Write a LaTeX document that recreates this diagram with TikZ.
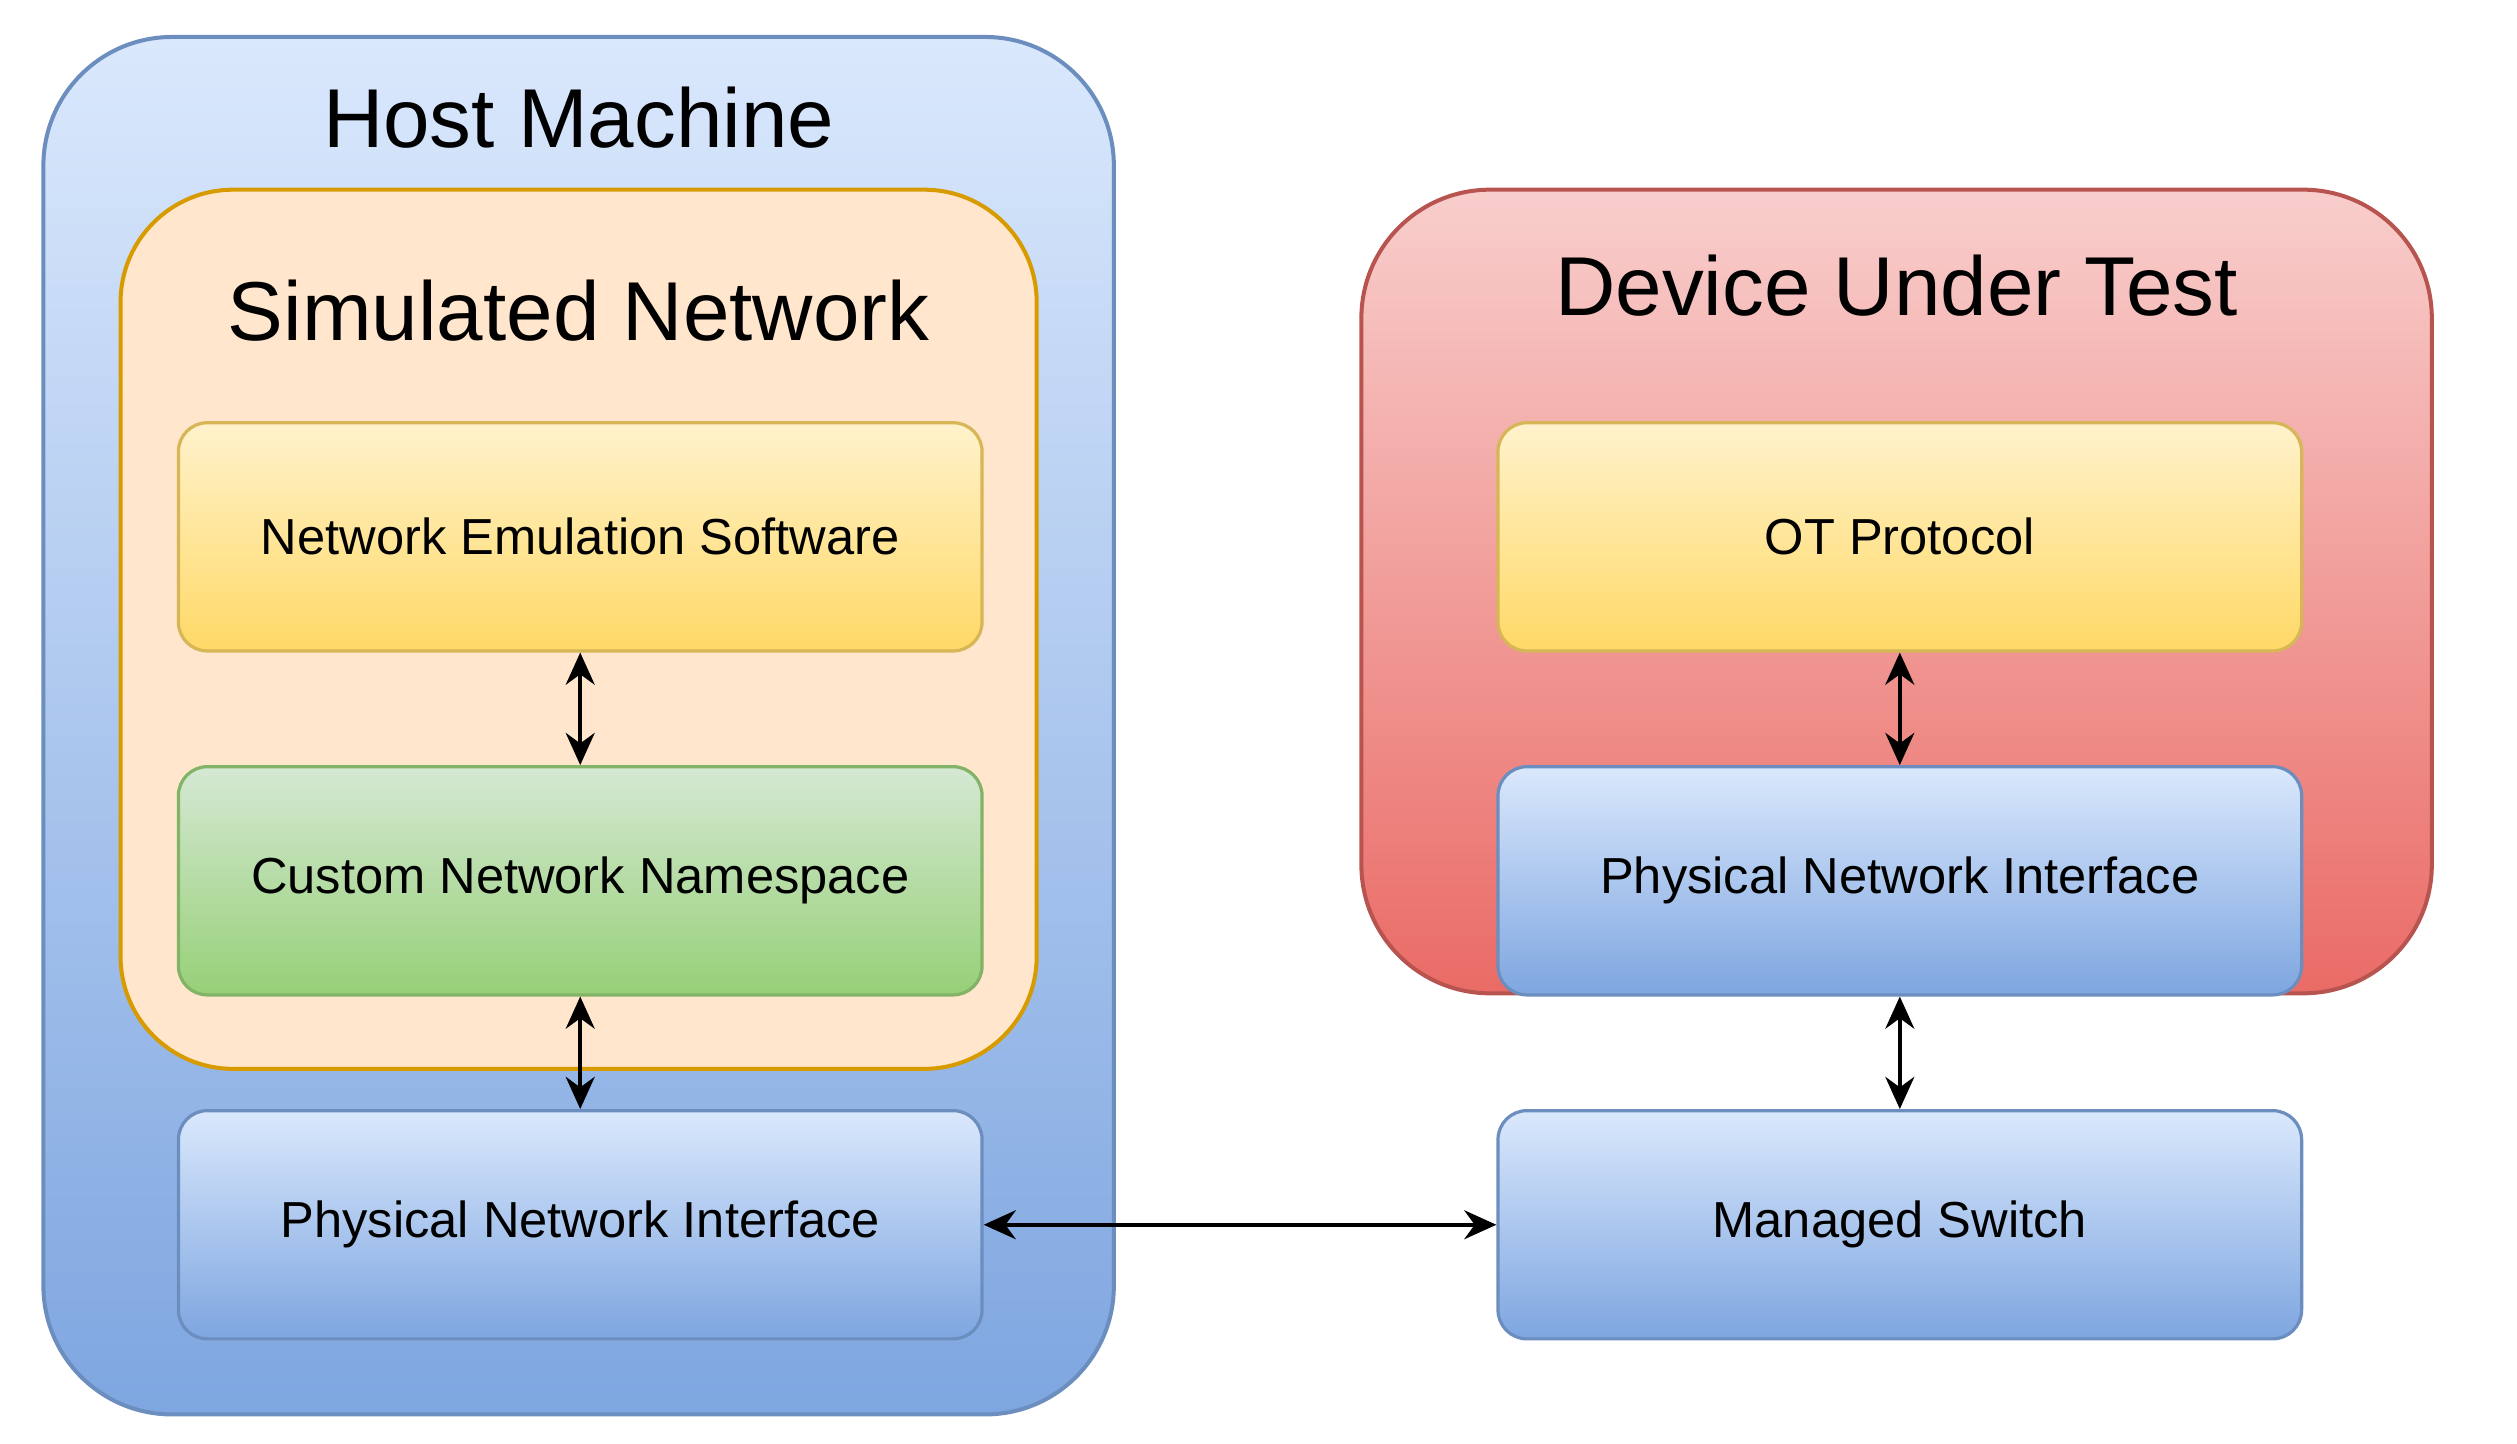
\documentclass[tikz,border=0pt]{standalone}
\usepackage{fontspec}
\setmainfont{Liberation Sans}
\usetikzlibrary{arrows.meta}
\begin{document}
\begin{tikzpicture}[x=1pt,y=-1pt,
 box/.style={draw, line width=2pt, rounded corners=18pt, minimum width=500pt, minimum height=142pt, font=\fontsize{31.5}{36}\selectfont, anchor=north west, inner sep=0pt},
 blue/.style={top color={rgb,255:red,218;green,232;blue,252}, bottom color={rgb,255:red,126;green,166;blue,224}, draw={rgb,255:red,108;green,142;blue,191}},
 yel/.style={top color={rgb,255:red,255;green,242;blue,204}, bottom color={rgb,255:red,255;green,217;blue,102}, draw={rgb,255:red,214;green,182;blue,86}},
 grn/.style={top color={rgb,255:red,213;green,232;blue,212}, bottom color={rgb,255:red,151;green,208;blue,119}, draw={rgb,255:red,130;green,179;blue,102}},
 arr/.style={{Stealth[length=20pt,width=18pt]}-{Stealth[length=20pt,width=18pt]}, line width=2.5pt},
 title/.style={font=\fontsize{52}{60}\selectfont}]
\useasboundingbox (0,0) rectangle (1566,898);
\path[blue, draw, line width=2.5pt, rounded corners=80pt] (27,23) rectangle (693,880);
\node[title] (ht) at (360,73) {Host Machine};
\path[fill={rgb,255:red,255;green,230;blue,204}, draw={rgb,255:red,215;green,155;blue,0}, line width=2.5pt, rounded corners=70pt] (75,118) rectangle (645,665);
\node[title] (st) at (360,193) {Simulated Network};
\path[top color={rgb,255:red,248;green,206;blue,204}, bottom color={rgb,255:red,234;green,107;blue,102}, draw={rgb,255:red,184;green,84;blue,80}, line width=2.5pt, rounded corners=80pt] (847,118) rectangle (1513,618);
\node[title] (dt) at (1180,178) {Device Under Test};
\node[box,yel] (nes) at (110,262) {Network Emulation Software};
\node[box,grn] (cnn) at (110,476) {Custom Network Namespace};
\node[box,blue] (pl) at (110,690) {Physical Network Interface};
\node[box,yel] (ot) at (931,262) {OT Protocol};
\node[box,blue] (pr) at (931,476) {Physical Network Interface};
\node[box,blue] (ms) at (931,690) {Managed Switch};
\draw[arr] (nes.south) -- (cnn.north);
\draw[arr] (cnn.south) -- (pl.north);
\draw[arr] (ot.south) -- (pr.north);
\draw[arr] (pr.south) -- (ms.north);
\draw[arr] (pl.east) -- (ms.west);
\end{tikzpicture}
\end{document}
